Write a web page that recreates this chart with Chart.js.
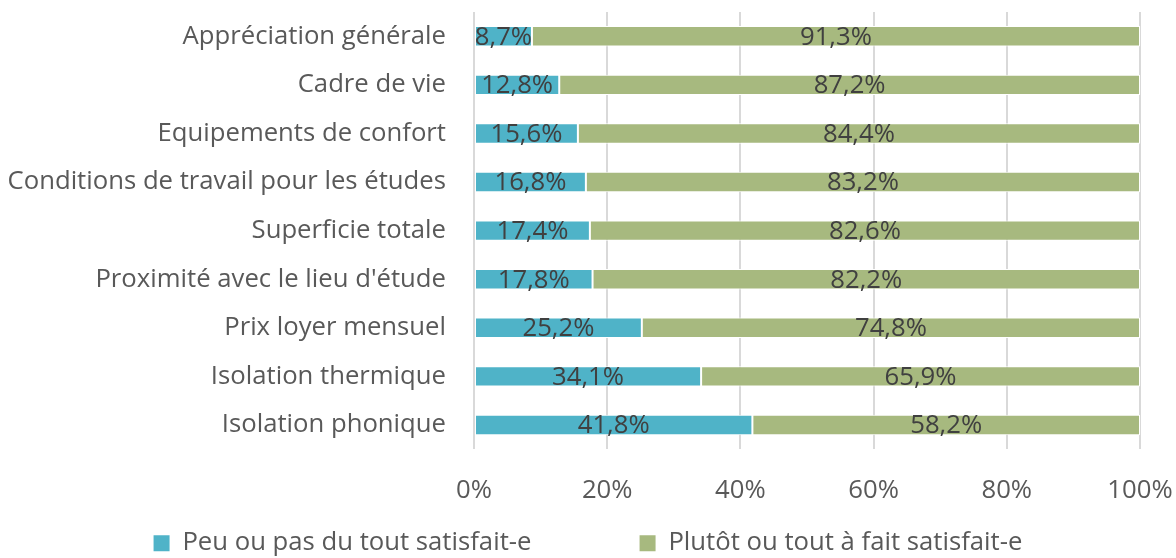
<!DOCTYPE html>
<html>
<head>
<meta charset="utf-8">
<script src="https://cdn.jsdelivr.net/npm/chart.js@4/dist/chart.umd.min.js"></script>
<style>
  html, body { margin: 0; padding: 0; background: #fff; }
  #wrap { width: 1176px; height: 558px; }
</style>
</head>
<body>
<div id="wrap"><canvas id="myChart" width="1176" height="558"></canvas></div>
<script>
// categories (top to bottom)
const categories = [
    'Appréciation générale',
    'Cadre de vie',
    'Equipements de confort',
    'Conditions de travail pour les études',
    'Superficie totale',
    "Proximité avec le lieu d'étude",
    'Prix loyer mensuel',
    'Isolation thermique',
    'Isolation phonique'
];
const peuSatisfait = [8.7, 12.8, 15.6, 16.8, 17.4, 17.8, 25.2, 34.1, 41.8];
const plutotSatisfait = [91.3, 87.2, 84.4, 83.2, 82.6, 82.2, 74.8, 65.9, 58.2];
const seriesNames = ['Peu ou pas du tout satisfait-e', 'Plutôt ou tout à fait satisfait-e'];
const xTicks = [0, 20, 40, 60, 80, 100];

const FONT = '"Open Sans", sans-serif';
const SIZE = 25.7;

// étiquettes de données au centre de chaque segment
const barLabels = {
    id: 'barLabels',
    afterDatasetsDraw(chart) {
        const ctx = chart.ctx;
        ctx.save();
        ctx.font = SIZE + 'px ' + FONT;
        ctx.fillStyle = '#404040';
        ctx.textAlign = 'center';
        ctx.textBaseline = 'middle';
        chart.data.datasets.forEach((ds, i) => {
            const meta = chart.getDatasetMeta(i);
            meta.data.forEach((bar, j) => {
                const txt = ds.data[j].toFixed(1).replace('.', ',') + '%';
                ctx.fillText(txt, (bar.x + bar.base) / 2, bar.y + 1);
            });
        });
        ctx.restore();
    }
};

new Chart(document.getElementById('myChart'), {
    type: 'bar',
    data: {
        labels: categories,
        datasets: [
            {
                label: seriesNames[0],
                data: peuSatisfait,
                backgroundColor: '#4FB3C8',
                borderColor: '#ffffff',
                borderWidth: 1,
                borderSkipped: false,
                barPercentage: 0.42,
                categoryPercentage: 1
            },
            {
                label: seriesNames[1],
                data: plutotSatisfait,
                backgroundColor: '#A7B97F',
                borderColor: '#ffffff',
                borderWidth: 1,
                borderSkipped: false,
                barPercentage: 0.42,
                categoryPercentage: 1
            }
        ]
    },
    options: {
        indexAxis: 'y',
        responsive: false,
        animation: false,
        layout: { padding: { top: 12, right: 0, bottom: -8, left: 0 } },
        scales: {
            x: {
                stacked: true,
                min: 0,
                max: 100,
                afterBuildTicks(scale) {
                    scale.ticks = xTicks.map(v => ({ value: v }));
                },
                afterFit(scale) {
                    scale.height = 73;
                    scale.paddingLeft = 0;
                    scale.paddingRight = 36;
                },
                grid: { color: '#d9d9d9', lineWidth: 2, drawTicks: false },
                border: { display: false },
                ticks: {
                    padding: 26,
                    maxRotation: 0,
                    color: '#595959',
                    font: { family: FONT, size: SIZE },
                    callback: v => v + '%'
                }
            },
            y: {
                stacked: true,
                afterFit(scale) {
                    scale.width = 474;
                    scale.paddingTop = 0;
                    scale.paddingBottom = 0;
                },
                grid: { display: false, drawTicks: false },
                border: { display: false },
                ticks: {
                    padding: 28,
                    color: '#595959',
                    font: { family: FONT, size: SIZE }
                }
            }
        },
        plugins: {
            tooltip: { enabled: false },
            legend: {
                position: 'bottom',
                labels: {
                    color: '#595959',
                    font: { family: FONT, size: SIZE, lineHeight: 1.0 },
                    boxWidth: 16,
                    boxHeight: 16,
                    padding: 8,
                    generateLabels(chart) {
                        const items = Chart.defaults.plugins.legend.labels.generateLabels(chart);
                        items.forEach((it, i) => {
                            it.lineWidth = 0;
                            if (i === 0) it.text = it.text + '\u00a0'.repeat(15);
                        });
                        return items;
                    }
                }
            }
        }
    },
    plugins: [barLabels]
});
</script>
</body>
</html>
